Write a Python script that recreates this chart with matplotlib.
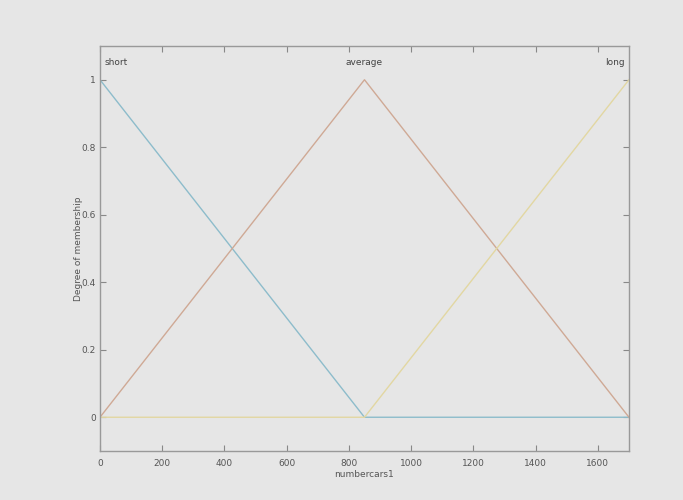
import matplotlib
matplotlib.use("Agg")
import matplotlib.pyplot as plt
import numpy as np

mf_names = ["short", "average", "long"]
mf_x = [[0, 850, 1700], [0, 850, 1700], [0, 850, 1700]]
mf_y = [[1, 0, 0], [0, 1, 0], [0, 0, 1]]
mf_colors = ["#8dbccb", "#cfa995", "#e2d7a2"]
label_x = [0, 850, 1700]
x_ticks = [0, 200, 400, 600, 800, 1000, 1200, 1400, 1600]
y_ticks = [0, 0.2, 0.4, 0.6, 0.8, 1.0]
y_ticklabels = ["0", "0.2", "0.4", "0.6", "0.8", "1"]

bg = "#e6e6e6"
fig = plt.figure(figsize=(6.83, 5.0), dpi=100, facecolor=bg)
ax = fig.add_axes([0.1464, 0.098, 0.7745, 0.81])
ax.set_facecolor(bg)

for xs, ys, c in zip(mf_x, mf_y, mf_colors):
    ax.plot(xs, ys, color=c, lw=1.0)

ax.set_xlim(0, 1700)
ax.set_ylim(-0.1, 1.1)
ax.set_xticks(x_ticks)
ax.set_yticks(y_ticks)
ax.set_yticklabels(y_ticklabels)
ax.tick_params(direction="in", top=True, right=True, length=4, width=0.8,
               color="#888888", labelsize=6.5, labelcolor="#555555")
ax.tick_params(axis="x", labeltop=False, pad=6)
ax.tick_params(axis="y", pad=3)
for s in ax.spines.values():
    s.set_color("#999999")
    s.set_linewidth(1.0)

for name, lx, ha in zip(mf_names, label_x, ["left", "center", "right"]):
    off = {"left": 15, "center": 0, "right": -15}[ha]
    ax.text(lx + off, 1.05, name, ha=ha, va="center", fontsize=6.5, color="#444444")

ax.set_xlabel("numbercars1", fontsize=6.5, color="#555555", labelpad=1)
ax.set_ylabel("Degree of membership", fontsize=6.5, color="#555555", labelpad=-1)

fig.savefig("out.png", dpi=100, facecolor=bg)
